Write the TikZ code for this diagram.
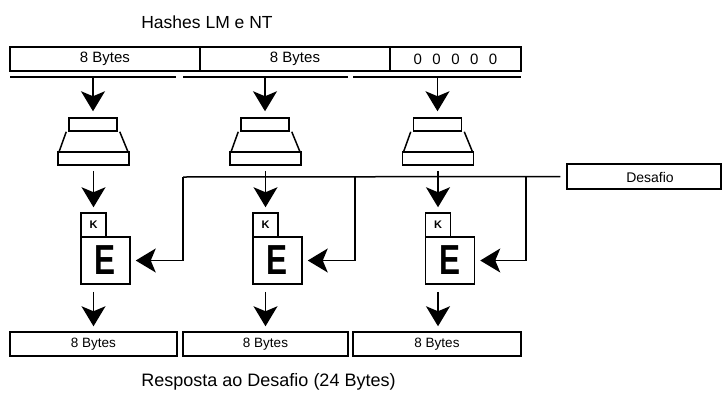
\documentclass[tikz,border=0pt]{standalone}
\usepackage{fontspec}
\setmainfont{Liberation Sans}
\usetikzlibrary{arrows.meta}
\begin{document}
\begin{tikzpicture}[x=1pt,y=-1pt,line width=1.5pt,
  arr/.style={-{Stealth[length=20pt,width=24pt,inset=5pt]},line width=1.3pt},
  seg/.style={draw,rectangle,inner sep=0pt,minimum height=24pt,font=\fontsize{15}{16}\selectfont},
  obox/.style={draw,rectangle,inner sep=0pt,minimum height=24pt,font=\fontsize{13.5}{15}\selectfont},
  ftop/.style={draw,rectangle,inner sep=0pt,minimum width=48pt,minimum height=13pt},
  fbot/.style={draw,rectangle,inner sep=0pt,minimum width=71pt,minimum height=13pt},
  kbox/.style={draw,rectangle,inner sep=0pt,minimum width=25pt,minimum height=24pt,font=\fontsize{11}{12}\selectfont\bfseries},
  ebox/.style={draw,rectangle,inner sep=0pt,minimum width=49pt,minimum height=47pt,font=\fontsize{42}{44}\selectfont\bfseries},
  lbl/.style={inner sep=0pt}]
\useasboundingbox (0,0) rectangle (722,394);

% title
\node[lbl,font=\fontsize{17.5}{19}\selectfont] (title) at (207,22) {Hashes LM e NT};

% top bar
\node[seg,minimum width=190pt] (s1) at (105,59) {8 Bytes};
\node[seg,minimum width=190pt] (s2) at (295,59) {8 Bytes};
\node[seg,minimum width=131pt] (s3) at (455.5,59) {0\hspace{0.7em}0\hspace{0.7em}0\hspace{0.7em}0\hspace{0.7em}0};

% under lines
\coordinate (u1a) at (10,77);  \coordinate (u1b) at (176,77);
\coordinate (u2a) at (183,77); \coordinate (u2b) at (348,77);
\coordinate (u3a) at (353,77); \coordinate (u3b) at (521,77);
\draw (u1a) -- (u1b);
\draw (u2a) -- (u2b);
\draw (u3a) -- (u3b);

% funnels
\foreach \i/\c in {1/93,2/265,3/437.5}{
  \node[ftop] (ft\i) at (\c,124.5) {};
  \node[fbot] (fb\i) at (\c+0.5,158.5) {};
  \draw ([xshift=-2pt]ft\i.south west) -- ([xshift=2pt]fb\i.north west);
  \draw ([xshift=2pt]ft\i.south east) -- ([xshift=-2pt]fb\i.north east);
}

% K and E boxes
\foreach \i/\c in {1/93,2/265,3/437.5}{
  \node[kbox] (k\i) at (\c+0.5,225) {K};
  \node[ebox] (e\i) at (\c+12.5,260.5) {\scalebox{0.75}[1]{E}};
}

% bottom boxes
\node[obox,minimum width=167pt] (b1) at (93.5,344) {8 Bytes};
\node[obox,minimum width=165pt] (b2) at (265.5,344) {8 Bytes};
\node[obox,minimum width=168pt] (b3) at (437,344) {8 Bytes};

% caption
\node[lbl,font=\fontsize{18}{20}\selectfont] (cap) at (268.5,382) {Resposta ao Desafio (24 Bytes)};

% Desafio
\node[draw,rectangle,inner sep=0pt,minimum width=154pt,minimum height=25pt] (des) at (644,176.5) {};
\node[lbl,font=\fontsize{14}{15}\selectfont] (destxt) at (650,177) {Desafio};

% Desafio line and junctions
\coordinate (j1) at (183,177);
\coordinate (j2) at (355,177);
\coordinate (j3) at (526,177);
\draw (j1) -- ([xshift=-6pt]des.west);

% arrows
\foreach \i/\c in {1/93,2/265,3/437.5}{
  \draw[arr] (\c,77) -- ([yshift=6pt]ft\i.north);
  \draw[arr] (fb\i.south) ++(0,5) -- ([yshift=5pt]k\i.north);
  \draw[arr] (e\i.south -| k\i.center) ++(0,7) -- ([yshift=5pt]b\i.north -| k\i.center);
  \draw[arr] (j\i) |- ([xshift=5pt]e\i.east);
}
\end{tikzpicture}
\end{document}
